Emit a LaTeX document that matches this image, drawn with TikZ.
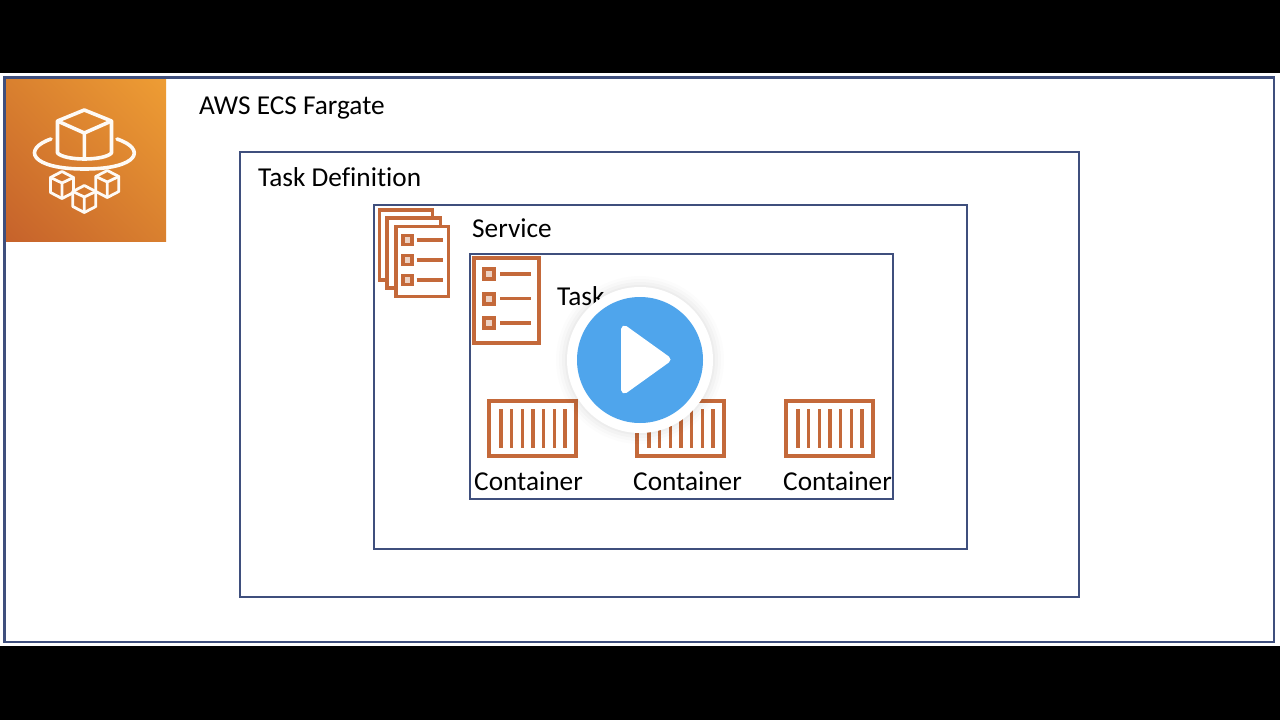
\documentclass[tikz,border=0pt]{standalone}
\usepackage{fontspec}
\usetikzlibrary{shadings}
\setmainfont[Ligatures=NoCommon]{Carlito}
\definecolor{framec}{HTML}{3F4F7D}
\definecolor{iconc}{HTML}{C4693A}
\definecolor{tileA}{HTML}{EE9D34}
\definecolor{tileB}{HTML}{C6622B}
\definecolor{tileM}{HTML}{D9802F}
\definecolor{playc}{HTML}{4FA5EC}
\tikzset{
  frame/.style={draw=framec,line width=2.5pt,fill=white},
  lbl/.style={anchor=base west,inner sep=0pt,font=\fontsize{27.3}{30}\selectfont,text=black},
  ico/.style={draw=iconc,line width=3.8pt},
  icothin/.style={draw=iconc,line width=3.2pt},
  wline/.style={draw=white!95!tileA,line width=3.6pt,line join=round,line cap=round},
  wsmall/.style={draw=white!95!tileA,line width=2.8pt,line join=round,line cap=round},
  crate/.pic={
    \draw[ico,fill=white] (0,0) rectangle (87,55);
    \foreach \x in {12,22.5,33.5,44,54.5,65.5,76}
      \draw[icothin] (\x,8) -- (\x,47);
  },
  smallcube/.pic={
    \draw[wsmall] (0,-13.5) -- (11.5,-7.5) -- (11.5,7.5) -- (0,13.5) -- (-11.5,7.5) -- (-11.5,-7.5) -- cycle;
    \draw[wsmall] (-11.5,-7.5) -- (0,-2) -- (11.5,-7.5) (0,-2) -- (0,13.5);
  },
  listrow/.pic={
    \draw[ico,fill=white!70!iconc] (-4.5,-4.5) rectangle (4.5,4.5);
    \draw[icothin] (9,0) -- (35,0);
  }
}
\begin{document}
\begin{tikzpicture}[x=1pt,y=-1pt]
\useasboundingbox (0,0) rectangle (1280,720);
\fill[black] (0,0) rectangle (1280,720);
\fill[white] (0,73) rectangle (1280,646);
\draw[frame] (4.5,77.5) rectangle (1274,642);
\draw[frame] (240,152) rectangle (1079,597);
\draw[frame] (374,205) rectangle (967,549);
\draw[frame] (470,254) rectangle (893,499);
% AWS tile
\shade[lower left=tileB,upper right=tileA,upper left=tileM,lower right=tileM] (6,79) rectangle (166,241);
\draw[wline] (84.3,110) -- (111.5,121) -- (111.5,153) .. controls (104,161) and (65,161) .. (57.5,153) -- (57.5,121) -- cycle;
\draw[wline] (57.5,121) -- (84.3,133) -- (111.5,121) (84.3,133) -- (84.3,159);
\draw[wline] (51,139) .. controls (22,149) and (30,169) .. (84.5,169) .. controls (139,169) and (147,149) .. (117,139);
\pic at (62,185) {smallcube};
\pic at (107.3,184) {smallcube};
\pic at (84.3,199) {smallcube};
% labels
\node[lbl] (fargate) at (199,114) {AWS ECS Fargate};
\node[lbl] (taskdef) at (258,186) {Task Definition};
\node[lbl] (service) at (472,237) {Service};
\node[lbl] (task) at (557,305) {Task};
\node[lbl] (c1) at (474,490) {Container};
\node[lbl] (c2) at (633,490) {Container};
\node[lbl] (c3) at (783,490) {Container};
% stacked docs
\draw[ico,fill=white] (379.5,210) rectangle (432.5,280);
\draw[ico,fill=white] (387,218) rectangle (440.5,288);
\draw[ico,fill=white] (396,226.5) rectangle (448.5,296.5);
\pic at (407.5,240) {listrow};
\pic at (407.5,260) {listrow};
\pic at (407.5,280) {listrow};
% task doc
\draw[ico,fill=white] (474,258) rectangle (539,343);
\foreach \y in {274,298.5,323}{
  \draw[ico,line width=4pt,fill=white!70!iconc] (484,\y-5) rectangle (494,\y+5);
  \draw[icothin] (500,\y) -- (531,\y);
}
% containers
\pic at (489,401) {crate};
\pic at (637,401) {crate};
\pic at (786,401) {crate};
% play button
\foreach \r/\o in {84/0.012,81/0.015,78/0.02,75/0.025}
  \fill[black,opacity=\o] (640,360) circle[radius=\r];
\fill[white] (640,360) circle[radius=73];
\fill[playc] (640,360) circle[radius=63];
\draw[white,fill=white,line width=7pt,line join=round] (624.5,329) -- (667,359.5) -- (624.5,390) -- cycle;
\end{tikzpicture}
\end{document}
